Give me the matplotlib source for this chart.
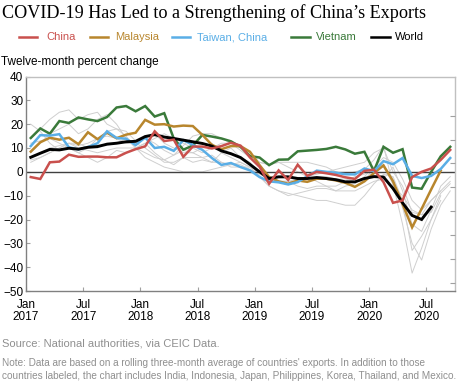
import numpy as np
import matplotlib
matplotlib.use("Agg")
import matplotlib.pyplot as plt
from matplotlib.lines import Line2D

nan = np.nan
months = 45  # Jan 2017 .. Sep 2020
tick_labels = ["Jan\n2017", "Jul\n2017", "Jan\n2018", "Jul\n2018",
               "Jan\n2019", "Jul\n2019", "Jan\n2020", "Jul\n2020"]

china = [-2.2, -3.0, 4.0, 4.3, 7.2, 6.3, 6.4, 6.4, 6.1, 6.1, 8.0, 9.5,
         10.7, 17.0, 12.9, 13.5, 6.3, 10.6, 10.6, 9.8, 10.8, 12.2, 11.0, 6.0,
         2.1, -5.0, 0.6, -3.4, 3.0, -1.7, 0.0, -0.6, -1.3, -2.3, -3.0, 0.4,
         0.9, -4.3, -13.0, -12.0, -2.2, 0.0, 1.4, 5.0, 9.2]
malaysia = [8.5, 12.4, 14.3, 13.5, 14.3, 11.6, 16.6, 13.7, 16.4, 14.1, 15.6, 16.4,
            21.8, 19.8, 20.0, 19.0, 19.4, 19.2, 15.5, 11.3, 9.5, 10.8, 10.8, 8.4,
            2.8, -2.2, -4.0, -5.0, -3.6, -4.2, -2.9, -2.9, -3.6, -4.6, -6.3, -4.0,
            -0.5, 2.7, -4.0, -13.5, -23.3, -15.5, -7.4, 0.5, nan]
taiwan = [10.8, 15.4, 15.2, 15.8, 10.3, 9.4, 10.4, 12.0, 17.0, 14.2, 13.9, 11.2,
          14.4, 10.0, 10.5, 8.8, 13.3, 11.3, 9.2, 5.8, 2.9, 3.7, 2.0, 0.6,
          -2.2, -4.0, -4.4, -5.3, -4.3, -1.9, 0.5, 0.0, -0.4, -1.0, -1.1, 1.4,
          0.3, 4.5, 3.2, 5.8, -1.7, -2.6, -1.7, 1.2, 5.8]
vietnam = [14.2, 18.2, 16.0, 21.3, 20.5, 22.8, 22.0, 21.3, 23.0, 27.0, 27.6, 25.4,
           27.6, 23.2, 24.6, 14.0, 9.3, 11.0, 15.5, 14.8, 14.0, 12.8, 10.5, 6.6,
           6.0, 2.8, 5.1, 5.2, 8.6, 8.9, 9.2, 9.6, 10.5, 9.4, 7.6, 8.4,
           0.3, 10.5, 8.0, 9.5, -6.6, -7.1, 0.0, 6.5, 10.5]
world = [6.1, 7.8, 9.4, 9.2, 9.9, 9.5, 10.3, 10.6, 11.6, 12.0, 12.6, 12.8,
         14.8, 15.6, 14.6, 14.0, 13.3, 12.6, 11.9, 10.8, 8.8, 7.6, 6.0, 3.1,
         0.0, -2.8, -2.1, -2.1, -2.8, -2.8, -2.4, -2.8, -3.3, -4.2, -4.2, -2.8,
         -2.0, -2.2, -7.0, -13.0, -18.3, -20.0, -14.8, nan, nan]

india = [20, 17, 12, 9, 10, 8, 6, 4, 6, 9, 8, 10,
         8, 6, 5, 7, 11, 15, 16, 16, 14, 12, 9, 6,
         4, 3, 4, 2, 0, -2, -4, -6, -6, -4, -2, -1,
         1, 2, -5, -22, -42.5, -32, -20, -12, nan]
indonesia = [14, 18, 22, 25, 26, 22, 24, 25, 20, 18, 17, 13,
             14, 12, 9, 7, 9, 8, 10, 12, 8, 6, 4, 2,
             -2, -6, -8, -10, -9, -8, -7, -7, -8, -6, -5, -2,
             2, 3, -3, -15, -30, -37, -24, -14, -8]
korea = [8, 12, 16, 18, 20, 16, 18, 22, 24, 20, 14, 10,
         12, 8, 5, 3, 6, 4, 5, 4, 8, 10, 6, 4,
         -2, -6, -8, -9, -10, -11, -12, -12, -13, -14, -14, -10,
         -5, -1, -2, -12, -33, -27, -20, -10, nan]
japan = [5, 6, 8, 10, 12, 11, 12, 14, 15, 14, 12, 12,
         10, 7, 4, 4, 6, 6, 6, 7, 4, 3, 4, 2,
         -2, -4, -4, -4, -6, -7, -6, -6, -8, -8, -8, -6,
         -4, -3, 2, -8, -22, -25, -16, -6, -2]
philippines = [12, 13, 14, 12, 10, 8, 10, 14, 17, 18, 15, 10,
               6, 4, 2, 1, 0, 0, 0, 1, 2, 3, 3, 1,
               -1, -3, -4, -4, -3, -2, -1, 0, 1, 2, 3, 4,
               8, 10, 0, -6, -17, -18, -12, -8, nan]
thailand = [4, 6, 8, 10, 12, 12, 10, 10, 12, 12, 14, 12,
            14, 16, 12, 10, 8, 8, 6, 4, 4, 2, 2, 2,
            0, -2, -4, -4, -4, -3, -2, -2, -3, -3, -4, -4,
            2, 6, 4, -3, -12, -16, -12, -8, -4]
mexico = [6, 8, 10, 11, 12, 10, 9, 8, 9, 10, 10, 10,
          12, 14, 16, 14, 12, 10, 8, 10, 12, 12, 10, 8,
          4, 3, 4, 4, 4, 4, 3, 2, 0, -1, 0, 1,
          5, 11, -6, -10, -16, -18, -17, -9, -5]

others = [india, indonesia, korea, japan, philippines, thailand, mexico]
names = ["China", "Malaysia", "Taiwan, China", "Vietnam", "World"]
series = [china, malaysia, taiwan, vietnam, world]
colors = ["#c9504d", "#b8862d", "#5aaee6", "#3a7a3a", "#000000"]
widths = [1.8, 1.8, 1.8, 1.8, 2.1]

plt.rcParams['font.family'] = ['Liberation Sans', 'DejaVu Sans']

fig = plt.figure(figsize=(4.6, 3.85), dpi=100)
W, H = 460, 385
ax = fig.add_axes([26 / W, 1 - 291 / H, (455 - 26) / W, (291 - 76.5) / H])

x = np.arange(months) + 0.5
for g in others:
    ax.plot(x, g, color="#cfcfcf", lw=0.7, zorder=1)
ax.axhline(0, color="#404040", lw=1.0, zorder=2)
order = [3, 1, 2, 4, 0]
for i in order:
    ax.plot(x, series[i], color=colors[i], lw=widths[i], zorder=3 + order.index(i),
            solid_joinstyle='miter')

ax.set_xlim(0, 45)
ax.set_ylim(-50, 40)
ax.set_yticks(np.arange(-50, 41, 10))
ax.set_xticks(np.arange(0, 45, 6))
ax.set_xticklabels(tick_labels, fontsize=8.5, linespacing=0.95)
ax.get_xticklabels()[0].set_x(0.6)
ax.tick_params(axis='y', direction='in', length=3, color='#a0a0a0', labelsize=8.5, pad=2)
ax.tick_params(axis='x', direction='in', length=3, color='#a0a0a0', pad=6)
for s in ['left', 'bottom']:
    ax.spines[s].set_color('#808080')
    ax.spines[s].set_linewidth(1.0)
for s in ['top', 'right']:
    ax.spines[s].set_color('#c0c0c0')
    ax.spines[s].set_linewidth(1.0)

ax2 = ax.twinx()
ax2.set_ylim(-50, 40)
ax2.set_yticks(np.arange(-46.5, 24, 10))
ax2.tick_params(axis='y', direction='in', length=3.5, color='#a0a0a0', labelright=False)
for s in ax2.spines.values():
    s.set_visible(False)

fig.text(2 / W, 1 - 18 / H, "COVID-19 Has Led to a Strengthening of China\u2019s Exports",
         family=['Liberation Serif', 'DejaVu Serif'], fontsize=13.1, va='baseline', ha='left')

leg_line = [(19, 37), (90, 108), (172, 190), (291, 310), (371, 390)]
leg_text = [46, 115, 197, 316, 395]
ly = 1 - 37 / H
for i in range(5):
    fig.add_artist(Line2D([leg_line[i][0] / W, leg_line[i][1] / W], [ly, ly],
                          color=colors[i], lw=1.8, transform=fig.transFigure))
    fig.text(leg_text[i] / W, ly, names[i], color=colors[i], fontsize=8,
             va='center', ha='left')

fig.text(1 / W, 1 - 62 / H, "Twelve-month percent change", fontsize=8.5,
         va='center', ha='left')

gray = "#8f8f8f"
fig.text(2 / W, 1 - 344 / H, "Source: National authorities, via CEIC Data.",
         fontsize=8.0, color=gray, va='center', ha='left')
fig.text(2 / W, 1 - 363 / H,
         "Note: Data are based on a rolling three-month average of countries' exports. In addition to those",
         fontsize=7.2, color=gray, va='center', ha='left')
fig.text(2 / W, 1 - 376 / H,
         "countries labeled, the chart includes India, Indonesia, Japan, Philippines, Korea, Thailand, and Mexico.",
         fontsize=7.2, color=gray, va='center', ha='left')

fig.savefig("out.png", dpi=100)
